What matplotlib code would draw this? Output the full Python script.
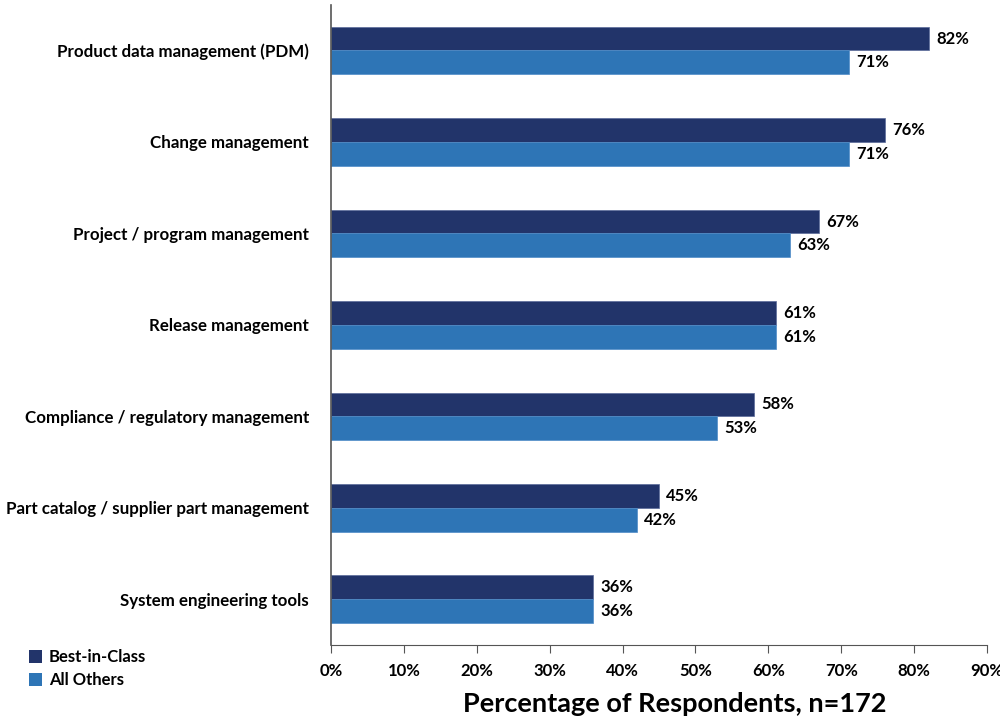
import matplotlib
matplotlib.use("Agg")
import matplotlib.pyplot as plt
from matplotlib.patches import Patch
import numpy as np

plt.rcParams["font.family"] = ["Lato", "DejaVu Sans"]
plt.rcParams["font.weight"] = "bold"

categories = [
    "Product data management (PDM)",
    "Change management",
    "Project / program management",
    "Release management",
    "Compliance / regulatory management",
    "Part catalog / supplier part management",
    "System engineering tools",
]
best_in_class = [82, 76, 67, 61, 58, 45, 36]
all_others = [71, 71, 63, 61, 53, 42, 36]
series_names = ["Best-in-Class", "All Others"]
colors = ["#22346A", "#2E75B6"]

fig = plt.figure(figsize=(10, 7.21), dpi=100)
ax = fig.add_axes([0.331, 0.1054, 0.656, 0.888])

y = np.arange(len(categories))
h = 0.26
ax.barh(y - h / 2, best_in_class, height=h, color=colors[0], edgecolor="#5a6a9a", linewidth=0.5)
ax.barh(y + h / 2, all_others, height=h, color=colors[1], edgecolor="#4f8cc8", linewidth=0.5)

for yi, v in zip(y, best_in_class):
    ax.text(v + 1, yi - h / 2, f"{v}%", va="center", ha="left", fontsize=12, fontweight="bold")
for yi, v in zip(y, all_others):
    ax.text(v + 1, yi + h / 2, f"{v}%", va="center", ha="left", fontsize=12, fontweight="bold")

ax.set_ylim(len(categories) - 0.5, -0.5)
ax.set_xlim(0, 90)
ax.set_yticks(y)
ax.set_yticklabels(categories, fontsize=12.2, fontweight="bold")
ax.tick_params(axis="y", length=0, pad=16)
ax.set_xticks(range(0, 91, 10))
ax.set_xticklabels([f"{t}%" for t in range(0, 91, 10)], fontsize=12, fontweight="bold")
ax.tick_params(axis="x", direction="out", length=6, color="#555555", pad=7)

for side in ["top", "right"]:
    ax.spines[side].set_visible(False)
ax.spines["left"].set_color("#555555")
ax.spines["bottom"].set_color("#555555")
ax.spines["left"].set_linewidth(1.2)

ax.set_xlabel("Percentage of Respondents, n=172", fontsize=19.5, fontweight="bold")
ax.xaxis.set_label_coords(0.524, -0.074)
ax.xaxis.label.set_va("top")

handles = [Patch(facecolor=c, edgecolor="none") for c in colors]
fig.legend(handles, series_names, loc="upper left", bbox_to_anchor=(0.014, 0.12),
           frameon=False, fontsize=12, handlelength=0.8, handleheight=0.8,
           handletextpad=0.4, labelspacing=0.4)

fig.savefig("out.png", dpi=100)
